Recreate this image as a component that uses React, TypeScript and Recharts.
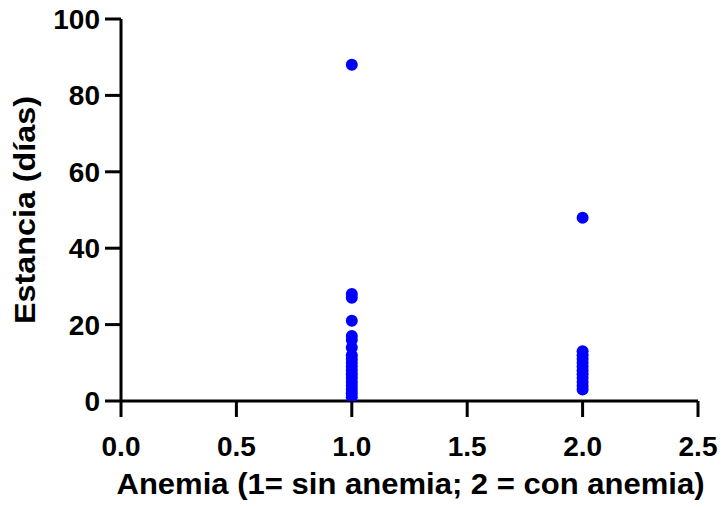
import { ScatterChart, Scatter, XAxis, YAxis } from 'recharts';

// Estancia (días) por grupo de anemia
const sinAnemiaX = 1;
const sinAnemia = [88, 28, 27, 21, 17, 16, 14, 12, 11, 10, 9, 8, 7, 6, 5, 4, 3, 2, 1];
const conAnemiaX = 2;
const conAnemia = [48, 13, 12, 11, 10, 9, 8, 7, 6, 5, 4, 3];

const xTicks = [0, 0.5, 1, 1.5, 2, 2.5];
const yTicks = [0, 20, 40, 60, 80, 100];

const xTitle = 'Anemia (1= sin anemia; 2 = con anemia)';
const yTitle = 'Estancia (días)';

const points = [
    ...sinAnemia.map((v) => ({ x: sinAnemiaX, y: v })),
    ...conAnemia.map((v) => ({ x: conAnemiaX, y: v })),
];

const FONT = '"Liberation Sans", Arial, sans-serif';

function XTick(props: any) {
    const { x, y, payload } = props;
    return (
        <text x={x} y={y + 37} textAnchor="middle" fontFamily={FONT} fontWeight="bold" fontSize={28} fill="#000">
            {Number(payload.value).toFixed(1)}
        </text>
    );
}

function YTick(props: any) {
    const { x, y, payload } = props;
    return (
        <text x={x - 3} y={y + 10} textAnchor="end" fontFamily={FONT} fontWeight="bold" fontSize={28} fill="#000">
            {payload.value}
        </text>
    );
}

function XTitle(props: any) {
    const { viewBox } = props;
    const cx = viewBox.x + viewBox.width / 2;
    return (
        <text
            x={cx + 1}
            y={494}
            textAnchor="middle"
            textLength={588}
            lengthAdjust="spacingAndGlyphs"
            fontFamily={FONT}
            fontWeight="bold"
            fontSize={30}
            fill="#000"
        >
            {xTitle}
        </text>
    );
}

function YTitle(props: any) {
    const { viewBox } = props;
    const cy = viewBox.y + viewBox.height / 2;
    return (
        <text
            x={35}
            y={cy}
            transform={`rotate(-90, 35, ${cy})`}
            textAnchor="middle"
            textLength={228}
            lengthAdjust="spacingAndGlyphs"
            fontFamily={FONT}
            fontWeight="bold"
            fontSize={30}
            fill="#000"
        >
            {yTitle}
        </text>
    );
}

export default function App() {
    return (
        <div style={{ position: 'absolute', left: 0, top: 0, width: 721, height: 508, background: '#fff' }}>
            <ScatterChart width={721} height={508} margin={{ top: 19, right: 23, bottom: 0, left: 0 }}>
                <XAxis
                    type="number"
                    dataKey="x"
                    domain={[0, 2.5]}
                    ticks={xTicks}
                    height={107}
                    axisLine={{ stroke: '#000', strokeWidth: 3 }}
                    tickLine={{ stroke: '#000', strokeWidth: 3 }}
                    tickSize={16}
                    tick={<XTick />}
                    label={<XTitle />}
                    allowDataOverflow
                />
                <YAxis
                    type="number"
                    dataKey="y"
                    domain={[0, 100]}
                    ticks={yTicks}
                    width={121}
                    axisLine={{ stroke: '#000', strokeWidth: 3 }}
                    tickLine={{ stroke: '#000', strokeWidth: 3 }}
                    tickSize={16}
                    tick={<YTick />}
                    label={<YTitle />}
                    allowDataOverflow
                />
                <Scatter
                    data={points}
                    fill="#0000ff"
                    isAnimationActive={false}
                    shape={(p: any) => <circle cx={p.cx} cy={p.cy} r={6} fill="#0000ff" />}
                />
            </ScatterChart>
        </div>
    );
}
